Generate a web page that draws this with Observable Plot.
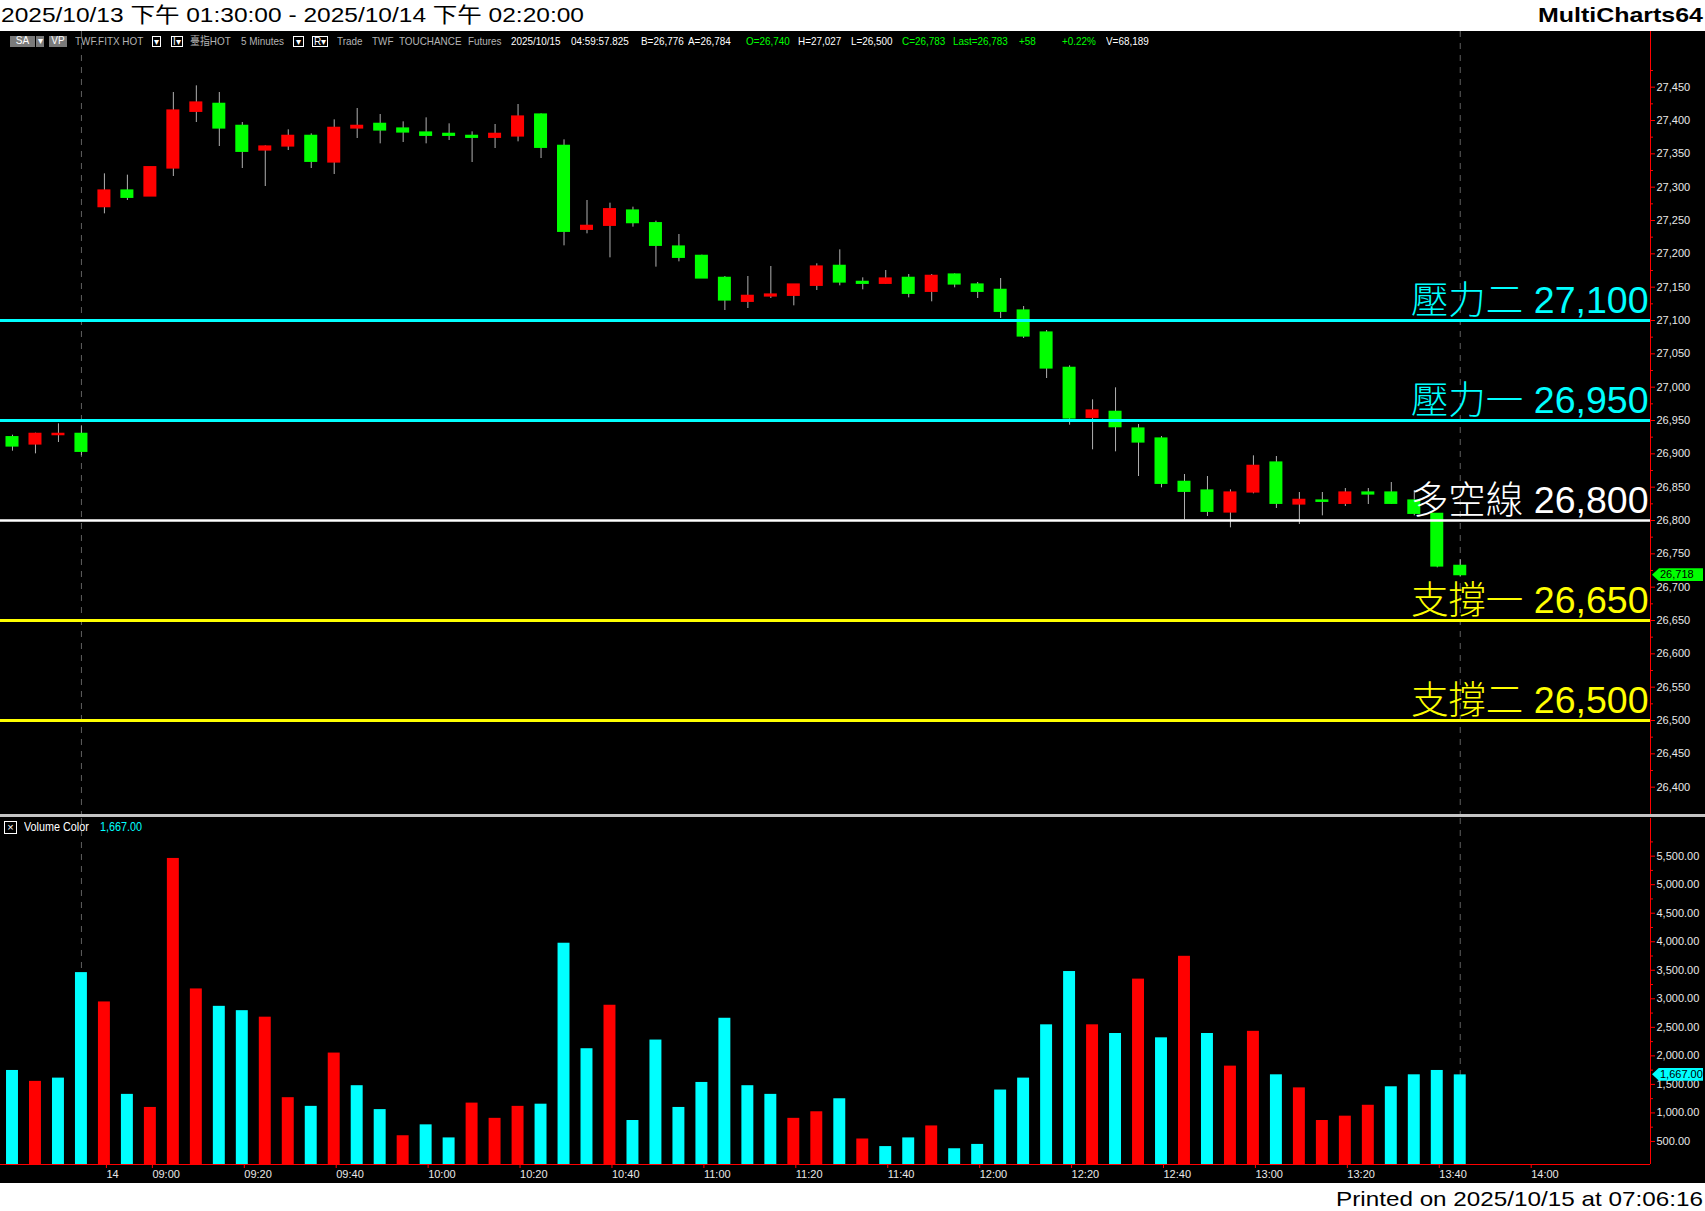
<!DOCTYPE html>
<html><head><meta charset="utf-8">
<script src="https://cdn.jsdelivr.net/npm/d3@7"></script>
<script src="https://cdn.jsdelivr.net/npm/@observablehq/plot@0.6"></script>
<style>
html,body{margin:0;padding:0;background:#fff;}
#root{position:relative;width:1705px;height:1211px;overflow:hidden;background:#fff;font-family:"Liberation Sans",Arial,"Noto Sans CJK TC",sans-serif;}
.abs{position:absolute;white-space:nowrap;}
.tb{position:absolute;top:35px;height:13px;line-height:13px;font-size:11px;white-space:nowrap;transform:scaleX(0.9);transform-origin:left center;}
.box{position:absolute;top:37px;height:9px;box-sizing:border-box;font-size:9px;line-height:8px;text-align:center;color:#fff;}
svg{display:block;}
</style></head><body><div id="root"></div>
<script>
// ---------------- data ----------------
const CANDLE_OPEN  = [26925,26914,26928,26930,27270,27295,27286,27328,27413,27425,27392,27355,27361,27377,27337,27388,27395,27388,27382,27380,27377,27374,27376,27409,27362,27236,27242,27265,27246,27211,27197,27164,27128,27136,27137,27152,27182,27158,27155,27164,27143,27169,27154,27146,27115,27082,27029,26954,26963,26938,26923,26858,26845,26812,26842,26887,26824,26830,26825,26842,26842,26830,26810,26732];
const CANDLE_HIGH  = [26928,26931,26945,26942,27320,27318,27330,27442,27452,27442,27397,27362,27386,27380,27401,27418,27409,27398,27404,27395,27383,27394,27424,27410,27371,27280,27276,27270,27249,27229,27198,27166,27166,27181,27154,27185,27206,27164,27175,27169,27169,27170,27157,27163,27121,27085,27032,26981,26999,26944,26926,26869,26866,26846,26897,26896,26842,26842,26848,26848,26857,26845,26810,26741];
const CANDLE_LOW   = [26904,26900,26917,26897,27260,27280,27286,27316,27397,27361,27328,27301,27355,27328,27319,27373,27365,27367,27365,27370,27337,27358,27368,27343,27212,27230,27194,27240,27180,27188,27163,27115,27118,27133,27122,27145,27152,27146,27154,27134,27128,27149,27133,27103,27073,27013,26943,26906,26903,26866,26849,26801,26806,26789,26840,26818,26794,26807,26821,26824,26824,26807,26729,26716];
const CANDLE_CLOSE = [26911,26930,26930,26903,27295,27284,27330,27415,27427,27388,27353,27361,27377,27338,27389,27392,27385,27382,27377,27377,27374,27380,27406,27359,27233,27242,27267,27246,27212,27194,27163,27130,27137,27139,27154,27181,27157,27155,27163,27140,27167,27154,27143,27113,27076,27028,26953,26965,26940,26917,26855,26843,26813,26842,26882,26825,26831,26828,26842,26839,26825,26810,26731,26718];
const VOLUME       = [1744,1553,1610,3459,2945,1325,1096,5460,3173,2868,2792,2678,1267,1115,2049,1477,1058,600,791,562,1172,905,1115,1153,3974,2125,2887,867,2277,1096,1534,2659,1477,1325,905,1020,1248,543,410,562,772,372,448,1401,1610,2544,3478,2544,2392,3345,2316,3745,2392,1820,2430,1668,1439,867,943,1134,1458,1668,1744,1667];
// volume colour flag as shown by the "Volume Color" study: u = red, d = cyan
const VOLUME_DIR   = ["d","u","d","d","u","d","u","u","u","d","d","u","u","d","u","d","d","u","d","d","u","u","u","d","d","d","u","d","d","d","d","d","d","d","u","u","d","u","d","d","u","d","d","d","d","d","d","u","d","u","d","u","d","u","u","d","u","u","u","u","d","d","d","d"];
const SESSION_MARK_IDX = [3, 63];
const X_TICK_IDX    = [4, 6, 10, 14, 18, 22, 26, 30, 34, 38, 42, 46, 50, 54, 58, 62, 66];
const X_TICK_LABELS = ["14","09:00","09:20","09:40","10:00","10:20","10:40","11:00","11:20","11:40","12:00","12:20","12:40","13:00","13:20","13:40","14:00"];
const PRICE_TICKS   = [26400,26450,26500,26550,26600,26650,26700,26750,26800,26850,26900,26950,27000,27050,27100,27150,27200,27250,27300,27350,27400,27450];
const VOLUME_TICKS  = [500,1000,1500,2000,2500,3000,3500,4000,4500,5000,5500];
const LEVEL_VALUES  = [27100, 26950, 26800, 26650, 26500];
const LEVEL_NAMES   = ["壓力二", "壓力一", "多空線", "支撐一", "支撐二"];
const LEVEL_KIND    = ["res", "res", "pivot", "sup", "sup"];
const LAST_PRICE = 26718;
const LAST_VOLUME = 1667;
const TITLE = "2025/10/13 下午 01:30:00 - 2025/10/14 下午 02:20:00";
const BRAND = "MultiCharts64";
const FOOTER = "Printed on 2025/10/15 at 07:06:16";

// ---------------- layout / style ----------------
const W = 1705, AXIS_W = 55;
const X_DOMAIN = [-0.522, 71.279];
const PRICE_TOP = 31, PRICE_H = 783, PRICE_DOMAIN = [26359, 27533.5];
const VOL_TOP = 818, VOL_H = 365, VOL_MB = 19, VOL_DOMAIN = [96, 6160];
const RED = "#ff0000", GREEN = "#00ff00", CYAN = "#00ffff", YELLOW = "#ffff00", AXIS_TXT = "#e8e8e8";
const LEVEL_COLOR = {res: CYAN, pivot: "#ffffff", sup: YELLOW};
const FONT = "Liberation Sans, Arial, Noto Sans CJK TC, sans-serif";

const candles = CANDLE_OPEN.map((o, i) => ({i, open: o, high: CANDLE_HIGH[i], low: CANDLE_LOW[i], close: CANDLE_CLOSE[i]}));
const vols = VOLUME.map((v, i) => ({i, v, dir: VOLUME_DIR[i]}));
const levels = LEVEL_VALUES.map((v, k) => ({value: v, kind: LEVEL_KIND[k], label: LEVEL_NAMES[k] + " " + d3.format(",")(v)}));
const minorPrice = PRICE_TICKS.map(t => t + 25).filter(t => t < PRICE_DOMAIN[1]);
const minorVol = VOLUME_TICKS.map(t => t + 250);
const CW = 0.283, VW = 0.26;

const root = document.getElementById("root");
function el(tag, css, html) { const e = document.createElement(tag); e.style.cssText = css; if (html != null) e.innerHTML = html; root.appendChild(e); return e; }

// header / footer
const NS = "http://www.w3.org/2000/svg";
function svgText(top, h, items) {
  const s = document.createElementNS(NS, "svg");
  s.setAttribute("width", W); s.setAttribute("height", h);
  s.style.cssText = `position:absolute;left:0;top:${top}px;background:#fff`;
  for (const it of items) {
    const t = document.createElementNS(NS, "text");
    t.setAttribute("x", it.x); t.setAttribute("y", it.y);
    t.setAttribute("font-size", it.size); t.setAttribute("font-family", FONT);
    if (it.bold) t.setAttribute("font-weight", "bold");
    if (it.anchor) t.setAttribute("text-anchor", it.anchor);
    t.setAttribute("textLength", it.len); t.setAttribute("lengthAdjust", "spacingAndGlyphs");
    t.setAttribute("fill", "#000"); t.textContent = it.text; s.appendChild(t);
  }
  root.appendChild(s);
}
svgText(0, 31, [{x: 1, y: 22, size: 21, len: 583, text: TITLE}, {x: 1703, y: 22, size: 21, bold: true, anchor: "end", len: 165, text: BRAND}]);
svgText(1183, 28, [{x: 1703, y: 23, size: 21, anchor: "end", len: 367, text: FOOTER}]);

// black chart background
el("div", `position:absolute;left:0;top:31px;width:${W}px;height:1152px;background:#000`);

// ---------------- price panel ----------------
const priceChart = Plot.plot({
  width: W, height: PRICE_H,
  marginLeft: 0, marginRight: AXIS_W, marginTop: 0, marginBottom: 0,
  style: {background: "transparent", fontFamily: FONT, fontSize: "11px", color: AXIS_TXT},
  x: {type: "linear", domain: X_DOMAIN, axis: null},
  y: {domain: PRICE_DOMAIN},
  marks: [
    Plot.ruleX(SESSION_MARK_IDX, {stroke: "#606060", strokeDasharray: "6 6"}),
    Plot.ruleX(candles, {x: "i", y1: "low", y2: "high", stroke: "#b0b0b0", strokeWidth: 1}),
    Plot.rect(candles, {x1: d => d.i - CW, x2: d => d.i + CW, y1: "open", y2: "close",
      fill: d => d.close >= d.open ? RED : GREEN, insetTop: -0.6, insetBottom: -0.6}),
    Plot.ruleY(levels, {y: "value", stroke: d => LEVEL_COLOR[d.kind], strokeWidth: d => d.kind === "pivot" ? 2.5 : 3}),
    Plot.text(levels, {y: "value", text: "label", frameAnchor: "right", textAnchor: "end", lineAnchor: "bottom",
      dx: -2, dy: -8, fill: d => LEVEL_COLOR[d.kind], fontSize: 37.5, fontWeight: 300, fontFamily: FONT}),
    Plot.ruleX([X_DOMAIN[1]], {stroke: RED, strokeWidth: 1}),
    Plot.axisY({anchor: "right", ticks: minorPrice, tickSize: 2, stroke: RED, fill: "none", label: null}),
    Plot.axisY({anchor: "right", ticks: PRICE_TICKS, tickSize: 4, tickPadding: 2, stroke: RED, fill: AXIS_TXT,
      tickFormat: d3.format(","), fontSize: 11, label: null})
  ]
});
priceChart.style.cssText += `;position:absolute;left:0;top:${PRICE_TOP}px;`;
root.appendChild(priceChart);

// separator between panels
el("div", `position:absolute;left:0;top:814px;width:${W}px;height:3px;background:#c4c4c4`);

// ---------------- volume panel ----------------
const volChart = Plot.plot({
  width: W, height: VOL_H,
  marginLeft: 0, marginRight: AXIS_W, marginTop: 0, marginBottom: VOL_MB,
  style: {background: "transparent", fontFamily: FONT, fontSize: "11px", color: AXIS_TXT},
  x: {type: "linear", domain: X_DOMAIN},
  y: {domain: VOL_DOMAIN},
  marks: [
    Plot.ruleX(SESSION_MARK_IDX, {stroke: "#606060", strokeDasharray: "6 6"}),
    Plot.rectY(vols, {x1: d => d.i - VW, x2: d => d.i + VW, y: "v", fill: d => d.dir === "u" ? RED : CYAN, clip: true}),
    Plot.ruleY([VOL_DOMAIN[0]], {stroke: RED, strokeWidth: 1}),
    Plot.ruleX([X_DOMAIN[1]], {stroke: RED, strokeWidth: 1}),
    Plot.axisY({anchor: "right", ticks: minorVol, tickSize: 2, stroke: RED, fill: "none", label: null}),
    Plot.axisY({anchor: "right", ticks: VOLUME_TICKS, tickSize: 4, tickPadding: 2, stroke: RED, fill: AXIS_TXT,
      tickFormat: d3.format(",.2f"), fontSize: 11, label: null}),
    Plot.axisX({anchor: "bottom", ticks: X_TICK_IDX, tickFormat: d => X_TICK_LABELS[X_TICK_IDX.indexOf(d)],
      tickSize: 4, tickPadding: 2, stroke: RED, fill: AXIS_TXT, textAnchor: "start", dx: 2, fontSize: 11, label: null})
  ]
});
volChart.style.cssText += `;position:absolute;left:0;top:${VOL_TOP}px;`;
root.appendChild(volChart);

// last value markers (placed through the charts' own y scales)
function marker(yPage, color, text) {
  el("div", `position:absolute;left:1652px;top:${yPage - 6.5}px;width:51px;height:13px;background:${color};` +
    `clip-path:polygon(0 50%,7px 0,100% 0,100% 100%,7px 100%);color:#000;font-size:11px;line-height:13px;` +
    `font-family:${FONT};padding-left:8px;box-sizing:border-box;`, text);
}
marker(PRICE_TOP + priceChart.scale("y").apply(LAST_PRICE), GREEN, d3.format(",")(LAST_PRICE));
marker(VOL_TOP + volChart.scale("y").apply(LAST_VOLUME), CYAN, d3.format(",.2f")(LAST_VOLUME));

// volume study legend
el("div", "position:absolute;left:4px;top:821px;width:13px;height:13px;border:1px solid #fff;box-sizing:border-box;color:#fff;font-size:11px;line-height:10px;text-align:center;", "×");
el("div", `position:absolute;left:24px;top:820px;font-size:12px;line-height:14px;color:#fff;font-family:${FONT};transform:scaleX(0.9);transform-origin:left;`, "Volume Color");
el("div", `position:absolute;left:100px;top:820px;font-size:12px;line-height:14px;color:${CYAN};font-family:${FONT};transform:scaleX(0.9);transform-origin:left;`, d3.format(",.2f")(LAST_VOLUME));

// ---------------- toolbar ----------------
const GRAY = "#b4b4b4", WHITE = "#ffffff";
const TB_TEXT = [
  [75, "TWF.FITX HOT", GRAY], [190, "臺指HOT", GRAY], [241, "5 Minutes", GRAY],
  [337, "Trade", GRAY], [372, "TWF", GRAY], [399, "TOUCHANCE", GRAY], [468, "Futures", GRAY],
  [511, "2025/10/15", WHITE], [571, "04:59:57.825", WHITE], [641, "B=26,776", WHITE], [688, "A=26,784", WHITE],
  [746, "O=26,740", GREEN], [798, "H=27,027", WHITE], [851, "L=26,500", WHITE], [902, "C=26,783", GREEN],
  [953, "Last=26,783", GREEN], [1019, "+58", GREEN], [1062, "+0.22%", GREEN], [1106, "V=68,189", WHITE]
];
for (const [x, t, c] of TB_TEXT) el("div", `left:${x}px;color:${c};font-family:${FONT};`, t).className = "tb";
const TB_BOX = [
  [10, 25, "SA", "#7a7a7a", "none"], [36, 8, "▾", "#7a7a7a", "none"], [49, 18, "VP", "#7a7a7a", "none"],
  [152, 9, "▾", "#000", "1px solid #fff"], [171, 12, "I▾", "#000", "1px solid #fff"],
  [293, 11, "▾", "#000", "1px solid #fff"], [312, 16, "R▾", "#000", "1px solid #fff"]
];
for (const [x, w, t, bg, bd] of TB_BOX) {
  const b = el("div", `left:${x}px;width:${w}px;background:${bg};border:${bd};font-family:${FONT};`, t);
  b.className = "box";
  b.style.top = "36px"; b.style.height = "11px"; b.style.lineHeight = "10px"; b.style.fontSize = "10px";
}
</script></body></html>
